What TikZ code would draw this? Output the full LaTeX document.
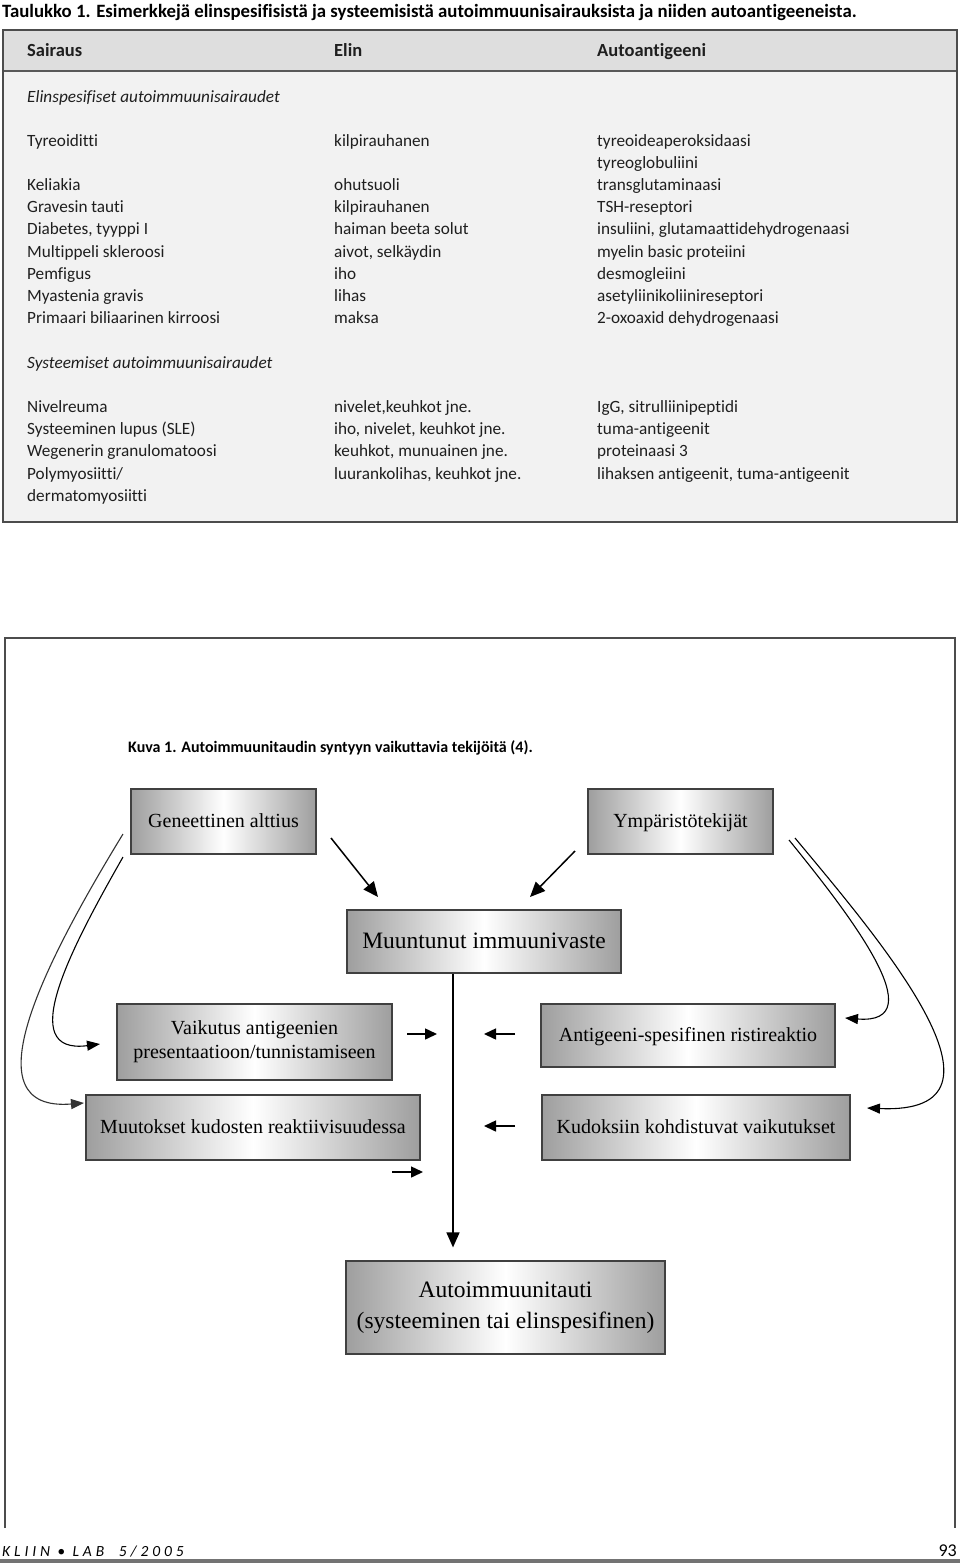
\documentclass[tikz,border=0pt]{standalone}
\usepackage{fontspec}
\setmainfont{Liberation Serif}
\newfontfamily\tabfont{Carlito}[Ligatures=NoCommon]
\usetikzlibrary{arrows.meta,calc}
\begin{document}
\begin{tikzpicture}[x=1pt,y=-1pt,
  tab/.style={anchor=base west,inner sep=0pt,text=black!88,font=\tabfont\fontsize{17.2}{20}\selectfont},
  tabit/.style={tab,font=\tabfont\itshape\fontsize{17.2}{20}\selectfont},
  tabhead/.style={tab,font=\tabfont\bfseries\fontsize{18.5}{20}\selectfont},
  boxn/.style={draw=black!75,line width=1.2pt,left color=black!38,right color=black!38,middle color=white,
    inner sep=0pt,align=center,font=\fontsize{20}{24}\selectfont,execute at begin node={\vphantom{Äj}}},
  bigarrow/.style={line width=1.5pt,-{Triangle[length=15pt,width=13pt]}},
  smallarrow/.style={line width=1.5pt,-{Triangle[length=12pt,width=11pt]}},
  curvearrow/.style={line width=1.1pt,-{Triangle[length=13pt,width=10pt]}}
]
\useasboundingbox (0,0) rectangle (960,1563);
\fill[white] (0,0) rectangle (960,1563);

% ---------- Table ----------
\node[anchor=base west,inner sep=0pt,font=\tabfont\bfseries\fontsize{18.8}{20}\selectfont] (title) at (2,18)
  {Taulukko 1. Esimerkkejä elinspesifisistä ja systeemisistä autoimmuunisairauksista ja niiden autoantigeeneista.};
\fill[black!5] (3,30) rectangle (957,522);
\fill[black!13] (3,30) rectangle (957,71);
\draw[black!65,line width=1.2pt] (3,71) -- (957,71);
\draw[black!70,line width=1.6pt] (3,30) rectangle (957,522);

\node[tabhead] (hS) at (27,57) {Sairaus};
\node[tabhead] (hE) at (334,57) {Elin};
\node[tabhead] (hA) at (597,57) {Autoantigeeni};

\node[tabit] (sec1) at (27,102) {Elinspesifiset autoimmuunisairaudet};

\node[tab] (a1) at (27,146) {Tyreoiditti};
\node[tab] (b1) at (334,146) {kilpirauhanen};
\node[tab] (c1) at (597,146) {tyreoideaperoksidaasi};
\node[tab] (c1b) at (597,168) {tyreoglobuliini};
\node[tab] (a2) at (27,190) {Keliakia};
\node[tab] (b2) at (334,190) {ohutsuoli};
\node[tab] (c2) at (597,190) {transglutaminaasi};
\node[tab] (a3) at (27,212) {Gravesin tauti};
\node[tab] (b3) at (334,212) {kilpirauhanen};
\node[tab] (c3) at (597,212) {TSH-reseptori};
\node[tab] (a4) at (27,234) {Diabetes, tyyppi I};
\node[tab] (b4) at (334,234) {haiman beeta solut};
\node[tab] (c4) at (597,234) {insuliini, glutamaattidehydrogenaasi};
\node[tab] (a5) at (27,257) {Multippeli skleroosi};
\node[tab] (b5) at (334,257) {aivot, selkäydin};
\node[tab] (c5) at (597,257) {myelin basic proteiini};
\node[tab] (a6) at (27,279) {Pemfigus};
\node[tab] (b6) at (334,279) {iho};
\node[tab] (c6) at (597,279) {desmogleiini};
\node[tab] (a7) at (27,301) {Myastenia gravis};
\node[tab] (b7) at (334,301) {lihas};
\node[tab] (c7) at (597,301) {asetyliinikoliinireseptori};
\node[tab] (a8) at (27,323) {Primaari biliaarinen kirroosi};
\node[tab] (b8) at (334,323) {maksa};
\node[tab] (c8) at (597,323) {2-oxoaxid dehydrogenaasi};

\node[tabit] (sec2) at (27,368) {Systeemiset autoimmuunisairaudet};

\node[tab] (d1) at (27,412) {Nivelreuma};
\node[tab] (e1) at (334,412) {nivelet,keuhkot jne.};
\node[tab] (f1) at (597,412) {IgG, sitrulliinipeptidi};
\node[tab] (d2) at (27,434) {Systeeminen lupus (SLE)};
\node[tab] (e2) at (334,434) {iho, nivelet, keuhkot jne.};
\node[tab] (f2) at (597,434) {tuma-antigeenit};
\node[tab] (d3) at (27,456) {Wegenerin granulomatoosi};
\node[tab] (e3) at (334,456) {keuhkot, munuainen jne.};
\node[tab] (f3) at (597,456) {proteinaasi 3};
\node[tab] (d4) at (27,479) {Polymyosiitti/};
\node[tab] (e4) at (334,479) {luurankolihas, keuhkot jne.};
\node[tab] (f4) at (597,479) {lihaksen antigeenit, tuma-antigeenit};
\node[tab] (d4b) at (27,501) {dermatomyosiitti};

% ---------- Figure frame ----------
\draw[black!70,line width=1.3pt] (5,1528) -- (5,638) -- (955,638) -- (955,1528);

\node[anchor=base west,inner sep=0pt,font=\tabfont\bfseries\fontsize{16}{18}\selectfont] (cap) at (128,752)
  {Kuva 1. Autoimmuunitaudin syntyyn vaikuttavia tekijöitä (4).};

% ---------- Boxes ----------
\node[boxn,minimum width=185pt,minimum height=65pt] (gen) at (223.5,821.5) {Geneettinen alttius};
\node[boxn,minimum width=185pt,minimum height=65pt] (env) at (680.5,821.5) {Ympäristötekijät};
\node[boxn,minimum width=274pt,minimum height=63pt,font=\fontsize{23.5}{28}\selectfont] (mod) at (484,941.5) {Muuntunut immuunivaste};
\node[boxn,minimum width=275pt,minimum height=76pt] (vai) at (254.5,1042) {Vaikutus antigeenien\\presentaatioon/tunnistamiseen};
\node[boxn,minimum width=294pt,minimum height=63pt] (ant) at (688,1035.5) {Antigeeni-spesifinen ristireaktio};
\node[boxn,minimum width=334pt,minimum height=65pt] (muu) at (253,1127.5) {Muutokset kudosten reaktiivisuudessa};
\node[boxn,minimum width=308pt,minimum height=65pt] (kud) at (696,1127.5) {Kudoksiin kohdistuvat vaikutukset};
\node[boxn,minimum width=319pt,minimum height=93pt,font=\fontsize{23.5}{31}\selectfont] (aut) at (505.5,1307.5) {Autoimmuunitauti\\(systeeminen tai elinspesifinen)};

% ---------- Arrows ----------
\coordinate (g1) at (331,838);
\coordinate (g2) at (378,897);
\draw[bigarrow] (g1) -- (g2);
\coordinate (y1) at (575,851);
\coordinate (y2) at (530,897);
\draw[bigarrow] (y1) -- (y2);
\coordinate (vx) at (453,1000);
\draw[line width=1.4pt,-{Triangle[length=15pt,width=13pt]},shorten >=13pt] (vx |- mod.south) -- (vx |- aut.north);

\coordinate (s1a) at (407,1034); \coordinate (s1b) at (437,1034);
\draw[smallarrow] (s1a) -- (s1b);
\coordinate (s2a) at (515,1034); \coordinate (s2b) at (484,1034);
\draw[smallarrow] (s2a) -- (s2b);
\coordinate (s3a) at (515,1126); \coordinate (s3b) at (484,1126);
\draw[smallarrow] (s3a) -- (s3b);
\coordinate (s4a) at (392,1172); \coordinate (s4b) at (423,1172);
\draw[smallarrow] (s4a) -- (s4b);

% curved arrows left
\coordinate (lo1) at (123,834); \coordinate (lo2) at (84,1103);
\coordinate (li1) at (123,857); \coordinate (li2) at (100,1044);
\draw[curvearrow,black!80] (lo1) .. controls (40,970) and (-30,1112) .. (lo2);
\draw[curvearrow] (li1) .. controls (70,950) and (15,1055) .. (li2);
% curved arrows right
\coordinate (ri1) at (789,840); \coordinate (ri2) at (845,1018);
\coordinate (ro1) at (795,838); \coordinate (ro2) at (867,1108);
\draw[curvearrow] (ri1) .. controls (850,915) and (935,1025) .. (ri2);
\draw[curvearrow] (ro1) .. controls (880,940) and (1030,1115) .. (ro2);

% ---------- Footer ----------
\node[anchor=base west,inner sep=0pt,font=\tabfont\itshape\fontsize{15.5}{18}\selectfont\addfontfeature{LetterSpace=25}] (foot) at (2,1556) {KLIIN • LAB\ \ 5/2005};
\node[anchor=base east,inner sep=0pt,font=\tabfont\fontsize{18}{20}\selectfont] (pg) at (957,1556) {93};
\fill[black!55] (0,1559) rectangle (960,1563);
\end{tikzpicture}
\end{document}
